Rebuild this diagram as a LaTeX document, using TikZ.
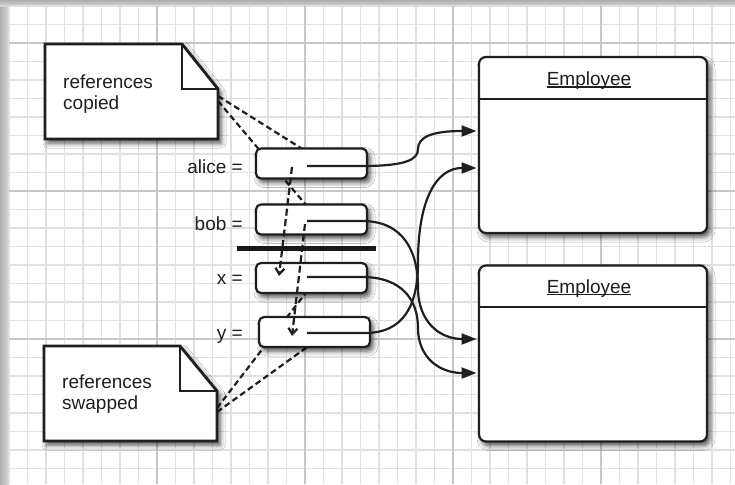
\documentclass[tikz,border=0pt]{standalone}
\usepackage{fontspec}
\setmainfont{Liberation Sans}
\usetikzlibrary{shadows.blur,arrows.meta}
\begin{document}
\begin{tikzpicture}[x=1pt,y=-1pt,
  txt/.style={font=\fontsize{19}{20.5}\selectfont, text=black!88, inner sep=0pt},
  shad/.style={blur shadow={shadow xshift=3pt,shadow yshift=-4pt,shadow blur radius=5pt,shadow opacity=70}},
  refbox/.style={shad, draw=black!88, line width=2.2pt, rounded corners=5pt, fill=white, minimum width=111pt, minimum height=30pt, inner sep=0pt},
  objbox/.style={shad, draw=black!88, line width=2.2pt, rounded corners=7pt, fill=white, minimum width=228pt, minimum height=176pt, inner sep=0pt},
  notebox/.style={shad, draw=black!88, line width=2.8pt, fill=white, line join=miter},
  callout/.style={draw=black!88, line width=2.2pt, dash pattern=on 6pt off 3.5pt},
  link/.style={draw=black!88, line width=2.2pt, -{Triangle[length=15pt,width=11pt]}},
  copyarrow/.style={draw=black!88, line width=2.2pt, dash pattern=on 7pt off 3.5pt, -{Straight Barb[length=6pt,width=9pt]}},
  minorline/.style={draw=black!12, line width=1.4pt},
  majorline/.style={draw=black!22, line width=1.6pt},
]
\useasboundingbox (0,0) rectangle (735,484);
% frame and grid
\fill[black!30] (0,0) rectangle (735,484);
\shade[left color=black!32, right color=black!14] (0,0) rectangle (9,484);
\shade[top color=black!32, bottom color=black!14] (0,0) rectangle (735,7);
\fill[white] (9,6) rectangle (735,484);
\foreach \i in {0,...,39} { \draw[minorline] ({9+18.5*\i},6) -- ({9+18.5*\i},484); }
\foreach \j in {0,...,26} { \draw[minorline] (9,{6+18.5*\j}) -- (735,{6+18.5*\j}); }
\foreach \i in {8,16,24,32} { \draw[majorline] ({9+18.5*\i},6) -- ({9+18.5*\i},484); }
\foreach \j in {2,10,18} { \draw[majorline] (9,{6+18.5*\j}) -- (735,{6+18.5*\j}); }

% callout lines (behind boxes)
\coordinate (c1a) at (218,96);
\coordinate (c1b) at (218,101);
\coordinate (c1aend) at (312,155);
\coordinate (c1bend) at (312,212);
\coordinate (c2a) at (217,408);
\coordinate (c2b) at (217,412);
\coordinate (c2aend) at (308,290);
\coordinate (c2bend) at (317,340);
\draw[callout] (c1a) -- (c1aend);
\draw[callout] (c1b) -- (c1bend);
\draw[callout] (c2a) -- (c2aend);
\draw[callout] (c2b) -- (c2bend);

% notes
\path[notebox] (45,44) -- (182,44) -- (218,89) -- (218,139) -- (45,139) -- cycle;
\draw[line width=2.8pt, black!88] (182,44) -- (182,89) -- (218,89);
\node[txt, anchor=north west, align=left] (n1) at (63,75) {references\\copied};
\path[notebox] (44,346) -- (180,346) -- (217,391) -- (217,441) -- (44,441) -- cycle;
\draw[line width=2.8pt, black!88] (180,346) -- (180,391) -- (217,391);
\node[txt, anchor=north west, align=left] (n2) at (62,375) {references\\swapped};

% reference boxes
\node[refbox] (alice) at (311.5,163.5) {};
\node[refbox] (bob) at (311.5,219.5) {};
\node[refbox] (xb) at (311.5,278) {};
\node[refbox] (yb) at (314.5,332) {};
\node[txt, anchor=base east] (la) at (243,173) {alice =};
\node[txt, anchor=base east] (lb) at (243,230) {bob =};
\node[txt, anchor=base east] (lx) at (243,284) {x =};
\node[txt, anchor=base east] (ly) at (243,339) {y =};

% employee objects
\node[objbox] (e1) at (593,145) {};
\node[objbox] (e2) at (593,353.5) {};
\coordinate (d1) at (593,99);
\coordinate (d2) at (593,307);
\draw[line width=1.8pt, black!88] (e1.west |- d1) -- (e1.east |- d1);
\draw[line width=1.8pt, black!88] (e2.west |- d2) -- (e2.east |- d2);
\node[txt, anchor=base] (t1) at (589,85.5) {Employee};
\node[txt, anchor=base] (t2) at (589,293) {Employee};
\draw[line width=1.3pt, black!88] ([yshift=-1.6pt]t1.base west) -- ([yshift=-1.6pt]t1.base east);
\draw[line width=1.3pt, black!88] ([yshift=-1.6pt]t2.base west) -- ([yshift=-1.6pt]t2.base east);

% solid references
\coordinate (sa) at (307,166);
\coordinate (sb) at (307,221);
\coordinate (sx) at (307,277);
\coordinate (sy) at (307,333);
\coordinate (e1in1) at (476.5,131);
\coordinate (e1in2) at (476.5,168);
\coordinate (e2in1) at (476.5,339);
\coordinate (e2in2) at (476.5,373);
\draw[link] (sa) -- (362,166) .. controls (405,166) and (418,160) .. (418,149) .. controls (418,137) and (432,131) .. (e1in1);
\draw[link] (sb) -- (362,221) .. controls (404,221) and (418,252) .. (418,288) .. controls (418,322) and (440,339) .. (e2in1);
\draw[link] (sx) -- (362,277) .. controls (402,277) and (418,300) .. (418,328) .. controls (418,358) and (440,373) .. (e2in2);
\draw[link] (sy) -- (365,333) .. controls (404,333) and (418,305) .. (418,262) .. controls (418,200) and (436,168) .. (e1in2);

% copy arrows
\coordinate (da0) at (292,167);
\coordinate (da1) at (279,276);
\coordinate (db0) at (305,224);
\coordinate (db1) at (292,336);
\draw[copyarrow] (da0) -- (da1);
\draw[copyarrow] (db0) -- (db1);

% separator bar
\coordinate (bar0) at (237,248);
\coordinate (bar1) at (376,248);
\draw[line width=5pt, black!90] (bar0) -- (bar1);
\end{tikzpicture}
\end{document}
